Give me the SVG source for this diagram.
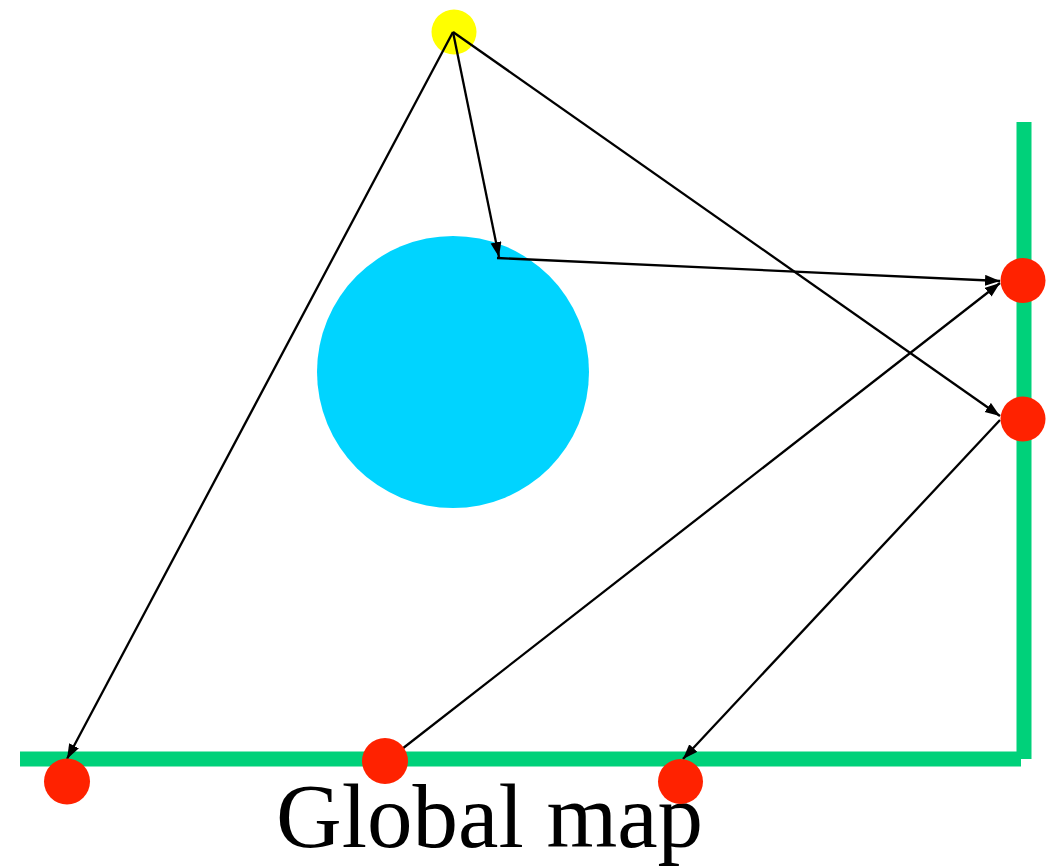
<svg xmlns="http://www.w3.org/2000/svg" width="1048" height="866" viewBox="0 0 1048 866">
<style>
.wall{stroke:#00d17a;stroke-width:15;fill:none;stroke-linecap:butt}
.conn{stroke:#000;stroke-width:2.3;fill:none}
.red{fill:#ff2200}
.label{font-family:"Liberation Serif","Times New Roman",serif;font-size:91px;fill:#000}
</style>
<defs>
<marker id="ah" markerUnits="userSpaceOnUse" markerWidth="16" markerHeight="12" refX="15" refY="5.5" orient="auto">
<path d="M0,0 L15,5.5 L0,11 Z" fill="#000"/>
</marker>
</defs>
<rect width="1048" height="866" fill="#fff"/>
<g id="walls">
<path class="wall" d="M1024,122 V759"/>
<path class="wall" d="M20,759 H1021"/>
</g>
<g id="obstacle"><circle cx="453" cy="372" r="136" fill="#00d4ff"/></g>
<g id="source"><circle cx="454" cy="32" r="22.5" fill="#ffff00"/></g>
<text class="label" x="276" y="847">Global map</text>
<g id="connectors">
<line class="conn" x1="453" y1="32" x2="67" y2="759" marker-end="url(#ah)"/>
<line class="conn" x1="453" y1="32" x2="499" y2="257" marker-end="url(#ah)"/>
<line class="conn" x1="497" y1="258" x2="1000" y2="281" marker-end="url(#ah)"/>
<line class="conn" x1="453" y1="32" x2="1000" y2="416" marker-end="url(#ah)"/>
<line class="conn" x1="402" y1="749" x2="1000" y2="283" marker-end="url(#ah)"/>
<line class="conn" x1="1000" y1="420" x2="683" y2="759" marker-end="url(#ah)"/>
</g>
<g id="r1"><circle class="red" cx="1023" cy="280.5" r="22.5"/></g>
<g id="r2"><circle class="red" cx="1023" cy="419" r="22.5"/></g>
<g id="r3"><circle class="red" cx="67" cy="781.5" r="23"/></g>
<g id="r4"><circle class="red" cx="385" cy="761" r="23"/></g>
<g id="r5"><circle class="red" cx="680.5" cy="781.5" r="22.5"/></g>
</svg>
